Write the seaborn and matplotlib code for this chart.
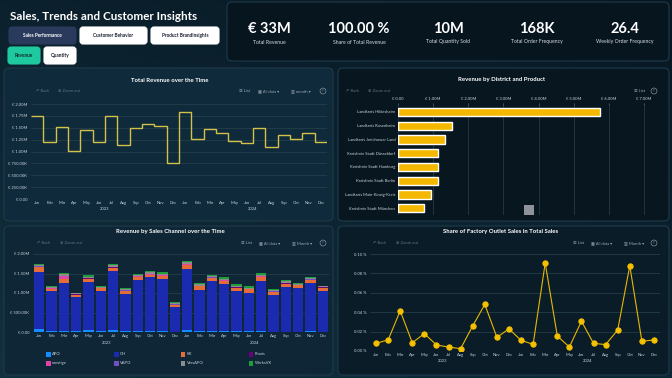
import numpy as np
import pandas as pd
import matplotlib
matplotlib.use("Agg")
import matplotlib.pyplot as plt
import matplotlib.transforms as mtrans
from matplotlib.patches import FancyBboxPatch, Rectangle
import seaborn as sns

# ---------------- data ----------------
months = ["Jan", "Feb", "Mar", "Apr", "May", "Jun",
          "Jul", "Aug", "Sep", "Oct", "Nov", "Dec"] * 2
years = ["2023", "2024"]

# total revenue per month, EUR millions (Jan 2023 .. Dec 2024)
revenue = [1.75, 1.19, 1.51, 1.01, 1.45, 1.19, 1.74, 1.13, 1.49, 1.57, 1.53, 0.76,
           1.83, 1.26, 1.47, 1.40, 1.22, 1.17, 1.50, 1.10, 1.34, 1.26, 1.40, 1.19]
rev_ticks = [0, 0.25, 0.5, 0.75, 1.0, 1.25, 1.5, 1.75, 2.0]
rev_tick_labels = ["€ 0.00", "€ 250.00K", "€ 500.00K", "€ 750.00K", "€ 1.00M",
                   "€ 1.25M", "€ 1.50M", "€ 1.75M", "€ 2.00M"]

districts = ["Landkreis Hildesheim", "Landkreis Rosenheim", "Landkreis Jerichower Land",
             "Kreisfreie Stadt Düsseldorf", "Kreisfreie Stadt Hamburg",
             "Kreisfreie Stadt Berlin", "Landkreis Main-Kinzig-Kreis",
             "Kreisfreie Stadt München"]
district_revenue = [5.74, 1.54, 1.33, 1.15, 1.15, 1.14, 0.95, 0.73]
district_ticks = [0, 1, 2, 3, 4, 5, 6, 7]
district_tick_labels = ["€ 0.00", "€ 1.00M", "€ 2.00M", "€ 3.00M", "€ 4.00M",
                        "€ 5.00M", "€ 6.00M", "€ 7.00M"]

# revenue by sales channel per month, EUR millions
channels = ["APO", "GH", "KK", "Praxis", "sonstige", "VAPO", "VersAPO", "WerksVK"]
apo = [0.07, 0.02, 0.03, 0.02, 0.04, 0.02, 0.05, 0.02, 0.02, 0.02, 0.02, 0.01,
       0.04, 0.02, 0.02, 0.02, 0.02, 0.02, 0.02, 0.01, 0.01, 0.01, 0.02, 0.01]
gh = [1.47, 1.03, 1.22, 0.87, 1.25, 1.03, 1.51, 0.95, 1.32, 1.39, 1.35, 0.64,
      1.58, 1.06, 1.28, 1.21, 1.04, 0.99, 1.30, 0.95, 1.15, 1.12, 1.24, 1.05]
kk = [0.12, 0.06, 0.10, 0.07, 0.08, 0.07, 0.09, 0.09, 0.07, 0.06, 0.07, 0.05,
      0.10, 0.09, 0.09, 0.08, 0.08, 0.08, 0.09, 0.07, 0.08, 0.07, 0.08, 0.08]
praxis = [0.005, 0.004, 0.006, 0.003, 0.005, 0.004, 0.005, 0.004, 0.005, 0.004, 0.005, 0.003,
          0.005, 0.004, 0.005, 0.004, 0.004, 0.005, 0.004, 0.004, 0.005, 0.004, 0.005, 0.004]
sonstige = [0.01, 0.01, 0.08, 0.00, 0.01, 0.00, 0.01, 0.00, 0.01, 0.01, 0.01, 0.00,
            0.01, 0.01, 0.00, 0.01, 0.00, 0.00, 0.01, 0.00, 0.01, 0.00, 0.00, 0.00]
vapo = [0.005, 0.006, 0.004, 0.005, 0.005, 0.006, 0.005, 0.006, 0.005, 0.006, 0.005, 0.007,
        0.005, 0.006, 0.005, 0.006, 0.006, 0.005, 0.006, 0.006, 0.005, 0.006, 0.005, 0.006]
versapo = [0.04, 0.03, 0.04, 0.02, 0.03, 0.03, 0.04, 0.03, 0.04, 0.05, 0.04, 0.03,
           0.06, 0.04, 0.04, 0.04, 0.04, 0.04, 0.04, 0.03, 0.05, 0.03, 0.03, 0.02]
werksvk = [0.03, 0.03, 0.03, 0.02, 0.03, 0.03, 0.03, 0.03, 0.02, 0.03, 0.03, 0.02,
           0.03, 0.03, 0.03, 0.03, 0.03, 0.03, 0.03, 0.03, 0.03, 0.02, 0.02, 0.02]
channel_colors = ["#118DFF", "#1A2BB0", "#E66C37", "#6B007B",
                  "#E044A7", "#744EC2", "#8C8C8C", "#1E9E3A"]
channel_ticks = [0, 0.5, 1.0, 1.5, 2.0]
channel_tick_labels = ["€ 0.00", "€ 500.00K", "€ 1.00M", "€ 1.50M", "€ 2.00M"]

# share of factory outlet sales in total sales, percent
outlet_share = [0.0079, 0.0114, 0.0414, 0.0086, 0.0179, 0.0062, 0.0041, 0.0024,
                0.0259, 0.0480, 0.0141, 0.0228, 0.0110, 0.0069, 0.0907, 0.0155,
                0.0041, 0.0307, 0.0079, 0.0066, 0.0217, 0.0879, 0.0100, 0.0114]
share_ticks = [0, 0.02, 0.04, 0.06, 0.08, 0.10]
share_tick_labels = ["0.00 %", "0.02 %", "0.04 %", "0.06 %", "0.08 %", "0.10 %"]

kpi_values = ["€ 33M", "100.00 %", "10M", "168K", "26.4"]
kpi_labels = ["Total Revenue", "Share of Total Revenue", "Total Quantity Sold",
              "Total Order Frequency", "Weekly Order Frequency"]

# ---------------- style ----------------
sns.set_theme(style="dark")
plt.rcParams["font.family"] = ["Lato", "DejaVu Sans"]

W, H = 672, 378
TXT = "#c9d3dc"
DIM = "#5d7282"
GRID = "#29424f"
BORDER = "#1f3a4b"

fig = plt.figure(figsize=(W / 100, H / 100), dpi=100)
fig.patch.set_facecolor("#0a1b27")

# background gradient
bg = fig.add_axes([0, 0, 1, 1], zorder=-10)
gx, gy = np.meshgrid(np.linspace(0, 1, 200), np.linspace(0, 1, 120))
g = 0.6 * gy + 0.4 * (1 - gx)
bg.imshow(g, cmap=sns.blend_palette(["#071722", "#12303f"], as_cmap=True),
          aspect="auto", extent=[0, 1, 0, 1], origin="upper")
bg.axis("off")


def box(x0, y0, x1, y1):
    return [x0 / W, 1 - y1 / H, (x1 - x0) / W, (y1 - y0) / H]


def panel(x0, y0, x1, y1, fc, ec=BORDER, r=5, lw=0.8, z=-5):
    p = FancyBboxPatch((x0 / W, 1 - y1 / H), (x1 - x0) / W, (y1 - y0) / H,
                       boxstyle=f"round,pad=0,rounding_size={r / W}",
                       mutation_aspect=W / H, transform=fig.transFigure,
                       fc=fc, ec=ec, lw=lw, zorder=z)
    fig.patches.append(p)


def ftext(x, y, s, **kw):
    kw.setdefault("va", "center")
    kw.setdefault("color", TXT)
    return fig.text(x / W, 1 - y / H, s, **kw)


# ---------------- header ----------------
ftext(10, 16, "Sales, Trends and Customer Insights", fontsize=8.4,
      fontweight="bold", color="white")
buttons = [(9, 27, 76, 44, "Sales Performance", "#2a3a5c", "white"),
           (80, 27, 147, 44, "Customer Behavior", "white", "#1a2030"),
           (151, 27, 219, 44, "Product BrandInsights", "white", "#1a2030"),
           (8, 47, 40, 64, "Revenue", "#1fc9a0", "#10302a"),
           (44, 47, 76, 64, "Quantity", "white", "#1a2030")]
for x0, y0, x1, y1, lab, fc, tc in buttons:
    panel(x0, y0, x1, y1, fc, ec=fc, r=3, z=1)
    ftext((x0 + x1) / 2, (y0 + y1) / 2, lab, ha="center", fontsize=3.4,
          fontweight="bold", color=tc, zorder=2)

panel(227, 2, 669, 61, "#07151f")
kpi_x = [269, 359, 448, 537, 625]
for x, v, lab in zip(kpi_x, kpi_values, kpi_labels):
    ftext(x, 29, v, ha="center", fontsize=10.5, fontweight="bold", color="white")
    ftext(x, 42, lab, ha="center", fontsize=3.7, color="#d6dde3")

# ---------------- panels ----------------
panel(4, 68, 333, 221, "#0f2a3b")
panel(338, 68, 669, 221, "#07161f")
panel(4, 226, 333, 375, "#0e2636")
panel(338, 226, 669, 375, "#0a1c28")


def toolbar(y, back, zoom, lst, alld=None, mon=None, q=None, mon_label="Month"):
    ftext(back, y, "↶ Back", fontsize=3.0, color=DIM)
    ftext(zoom, y, "⊕ Zoom out", fontsize=3.0, color=DIM)
    ftext(lst, y, "☰ List", fontsize=3.0, color="#9aa8b3")
    if alld is not None:
        ftext(alld, y, "▦ All data ▾", fontsize=3.0, color="#9aa8b3")
    if mon is not None:
        ftext(mon, y, "▥ " + mon_label + " ▾", fontsize=3.0, color="#9aa8b3")
    ftext(q, y, "?", ha="center", fontsize=2.8, color="#9aa8b3",
          bbox=dict(boxstyle="circle,pad=0.25", fc="none", ec="#9aa8b3", lw=0.4))


ftext(170, 80, "Total Revenue over the Time", ha="center", fontsize=4.3,
      fontweight="bold", color="white")
ftext(502, 80, "Revenue by District and Product", ha="center", fontsize=4.3,
      fontweight="bold", color="white")
ftext(170, 232, "Revenue by Sales Channel over the Time", ha="center", fontsize=4.3,
      fontweight="bold", color="white")
ftext(501, 232, "Share of Factory Outlet Sales in Total Sales", ha="center",
      fontsize=4.3, fontweight="bold", color="white")

toolbar(91, 36, 58, 239, 258, 291, 323, mon_label="month")
toolbar(91, 346, 368, 634, q=654)
toolbar(243, 37, 60, 241, 259, 292, 323)
toolbar(243, 373, 396, 573, 591, 624, 654)


def style_axes(ax):
    ax.set_facecolor("none")
    for s in ax.spines.values():
        s.set_visible(False)
    ax.tick_params(labelsize=3.0, labelcolor=TXT, color="#6f8696",
                   length=1.5, width=0.4, pad=1.2)
    ax.set_xlabel("")
    ax.set_ylabel("")


def month_axis(ax, year_y):
    ax.set_xticks(range(24))
    ax.set_xticklabels(months)
    ax.tick_params(axis="x", length=0, pad=1.5)
    ax.set_xlim(-0.5, 23.5)
    tr = mtrans.blended_transform_factory(ax.transData, fig.transFigure)
    for i, yr in enumerate(years):
        ax.text(5.5 + 12 * i, 1 - year_y / H, yr, transform=tr, ha="center",
                va="center", fontsize=3.0, color=TXT)


idx = list(range(24))

# ---- total revenue step line ----
ax1 = fig.add_axes(box(31, 104, 327, 199))
ax1.stairs(revenue, np.arange(25) - 0.5, baseline=None, color="#d3c24a", lw=1.0)
ax1.set_ylim(0, 2.0)
ax1.set_yticks(rev_ticks)
ax1.set_yticklabels(rev_tick_labels)
style_axes(ax1)
ax1.yaxis.grid(True, color=GRID, lw=0.5)
ax1.set_axisbelow(True)
month_axis(ax1, 209)

# ---- revenue by district ----
ax2 = fig.add_axes(box(398, 105, 657, 215))
df_d = pd.DataFrame({"district": districts, "revenue": district_revenue})
sns.barplot(data=df_d, y="district", x="revenue", ax=ax2, color="#F5B800",
            saturation=1, width=0.6)
ax2.set_xlim(0, 7.37)
ax2.set_xticks(district_ticks)
ax2.set_xticklabels(district_tick_labels)
ax2.xaxis.tick_top()
style_axes(ax2)
ax2.tick_params(axis="y", length=0, pad=2)
ax2.xaxis.grid(True, color=GRID, lw=0.5)
ax2.set_axisbelow(True)
fig.patches.append(Rectangle(box(524, 205, 534, 215)[:2], 10 / W, 10 / H,
                             transform=fig.transFigure, fc="#8d9399", ec="none",
                             zorder=3))

# ---- revenue by channel (stacked) ----
ax3 = fig.add_axes(box(33, 254, 329, 332))
series = [apo, gh, kk, praxis, sonstige, vapo, versapo, werksvk]
df_c = pd.DataFrame([(m, ch, v[m]) for ch, v in zip(channels, series) for m in idx],
                    columns=["month", "channel", "revenue"])
sns.histplot(data=df_c, x="month", weights="revenue", hue="channel",
             hue_order=channels[::-1], multiple="stack", discrete=True, shrink=0.86,
             palette=dict(zip(channels, channel_colors)), alpha=1, linewidth=0,
             legend=False, ax=ax3)
ax3.set_ylim(0, 2.0)
ax3.set_yticks(channel_ticks)
ax3.set_yticklabels(channel_tick_labels)
style_axes(ax3)
ax3.yaxis.grid(True, color=GRID, lw=0.5)
ax3.set_axisbelow(True)
month_axis(ax3, 343)

leg_x = [48, 116, 183, 251]
for i, (ch, col) in enumerate(zip(channels, channel_colors)):
    x = leg_x[i % 4]
    y = 354 if i < 4 else 363
    fig.patches.append(Rectangle(((x - 2.5) / W, 1 - (y + 2.5) / H), 5 / W, 5 / H,
                                 transform=fig.transFigure, fc=col, ec="none",
                                 zorder=3))
    ftext(x + 4, y, ch, fontsize=3.0)

# ---- factory outlet share ----
ax4 = fig.add_axes(box(370, 254, 660, 351))
df_s = pd.DataFrame({"month": idx, "share": outlet_share})
sns.lineplot(data=df_s, x="month", y="share", ax=ax4, color="#E8B800", lw=0.8,
             marker="o", markersize=3.8, markerfacecolor="#F5C000",
             markeredgecolor="#F5C000")
ax4.set_ylim(0, 0.10)
ax4.set_yticks(share_ticks)
ax4.set_yticklabels(share_tick_labels)
style_axes(ax4)
ax4.yaxis.grid(True, color=GRID, lw=0.5)
ax4.set_axisbelow(True)
month_axis(ax4, 361)

fig.savefig("out.png", dpi=100, facecolor=fig.get_facecolor())
